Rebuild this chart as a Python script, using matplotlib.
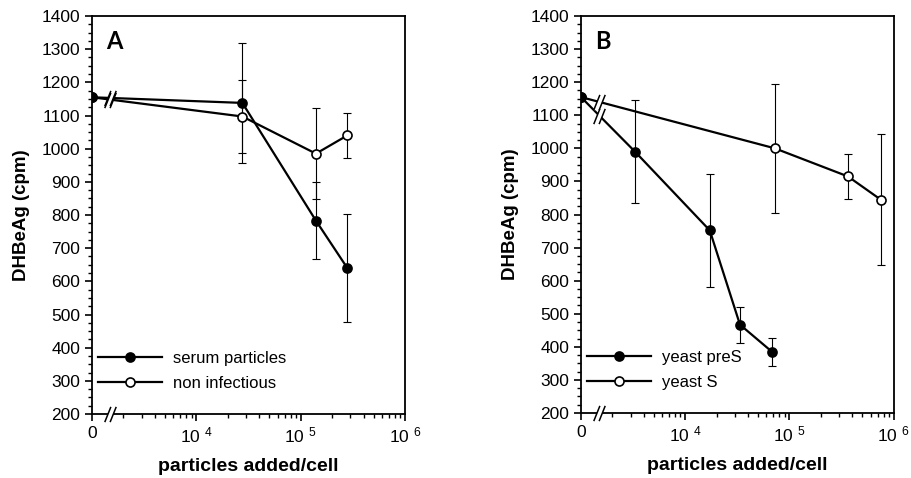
import numpy as np
import matplotlib
matplotlib.use('Agg')
import matplotlib.pyplot as plt
from matplotlib.path import Path
from matplotlib.ticker import FixedLocator, FixedFormatter, MultipleLocator, NullFormatter

plt.rcParams['font.family'] = ['Liberation Sans', 'DejaVu Sans']
plt.rcParams['mathtext.default'] = 'regular'

# panel A: particles added per cell (0 = no particles)
a_serum_x = [0, 2.76e4, 1.4e5, 2.8e5]
a_serum_y = [1155, 1138, 783, 640]
a_serum_err = [0, 180, 117, 162]

a_nonInf_x = [0, 2.76e4, 1.4e5, 2.8e5]
a_nonInf_y = [1155, 1097, 985, 1040]
a_nonInf_err = [0, 110, 138, 68]

# panel B
b_preS_x = [0, 3.3e3, 1.72e4, 3.35e4, 6.8e4]
b_preS_y = [1155, 990, 752, 467, 385]
b_preS_err = [0, 155, 170, 54, 42]

b_S_x = [0, 7.24e4, 3.64e5, 7.5e5]
b_S_y = [1155, 1000, 915, 845]
b_S_err = [0, 195, 67, 198]

x_ticks = [1e3, 1e4, 1e5, 1e6]
x_ticklabels = ['0', '10 $^{4}$', '10 $^{5}$', '10 $^{6}$']
break_x = 1.5e3

# "//" break mark and white gap between the slashes
slash_path = Path([(-0.75, -1), (0.05, 1), (-0.05, -1), (0.75, 1)],
                  [Path.MOVETO, Path.LINETO, Path.MOVETO, Path.LINETO])
gap_path = Path([(-0.75, -1), (-0.05, -1), (0.75, 1), (0.05, 1), (-0.75, -1)],
                [Path.MOVETO, Path.LINETO, Path.LINETO, Path.LINETO, Path.CLOSEPOLY])


def xpos(x):
    x = np.asarray(x, dtype=float)
    return np.where(x == 0, 1e3, x)


def draw_break(ax, x, y, clip=True):
    ax.plot([x], [y], marker=gap_path, ms=11, mfc='white', mec='none',
            ls='none', zorder=5, clip_on=clip)
    ax.plot([x], [y], marker=slash_path, ms=11, mfc='none', mec='black',
            mew=1.1, ls='none', zorder=6, clip_on=clip)


def draw_series(ax, x, y, err, filled, label):
    xp = xpos(x)
    y = np.asarray(y, dtype=float)
    err = np.asarray(err, dtype=float)
    m = err > 0
    ax.errorbar(xp[m], y[m], yerr=err[m], fmt='none', ecolor='black',
                elinewidth=0.8, capsize=3, capthick=0.8, zorder=2)
    line, = ax.plot(xp, y, color='black', lw=1.6, marker='o', ms=6.5,
                    mfc='black' if filled else 'white', mec='black', mew=1.2,
                    label=label, zorder=4)
    # break mark on the segment leaving the "0" point
    t = (np.log10(break_x) - 3) / (np.log10(xp[1]) - 3)
    draw_break(ax, break_x, y[0] + (y[1] - y[0]) * t)
    return line


def style_axis(ax, letter):
    ax.set_xscale('log')
    ax.set_xlim(1e3, 1e6)
    ax.set_ylim(200, 1400)
    ax.xaxis.set_major_locator(FixedLocator(x_ticks))
    ax.xaxis.set_major_formatter(FixedFormatter(x_ticklabels))
    minor = [k * 10 ** d for d in (3, 4, 5) for k in range(2, 10)]
    ax.xaxis.set_minor_locator(FixedLocator(minor))
    ax.xaxis.set_minor_formatter(NullFormatter())
    ax.yaxis.set_major_locator(MultipleLocator(100))
    ax.yaxis.set_minor_locator(MultipleLocator(25))
    ax.tick_params(which='major', direction='out', length=5, width=1.2,
                   labelsize=12.5, top=False, right=False)
    ax.tick_params(which='minor', direction='out', length=3, width=1.0,
                   top=False, right=False)
    for s in ax.spines.values():
        s.set_linewidth(1.3)
    ax.set_ylabel('DHBeAg (cpm)', fontsize=13.5, fontweight='bold', labelpad=8)
    ax.set_xlabel('particles added/cell', fontsize=14, fontweight='bold', labelpad=9)
    ax.text(0.045, 0.965, letter, transform=ax.transAxes, fontsize=17,
            family='Lato', fontweight='bold', va='top', ha='left')
    draw_break(ax, break_x, 200, clip=False)


fig = plt.figure(figsize=(9.12, 4.78), dpi=100)
axA = fig.add_axes([0.1009, 0.1339, 0.3432, 0.8326])
axB = fig.add_axes([0.637, 0.136, 0.343, 0.8305])

hA2 = draw_series(axA, a_nonInf_x, a_nonInf_y, a_nonInf_err, False, 'non infectious')
hA1 = draw_series(axA, a_serum_x, a_serum_y, a_serum_err, True, 'serum particles')
style_axis(axA, 'A')
axA.legend(handles=[hA1, hA2], loc='lower left', bbox_to_anchor=(0.02, 0.058),
           frameon=False, fontsize=12, handlelength=3.8, handletextpad=0.7,
           labelspacing=0.6, borderpad=0, borderaxespad=0)

hB2 = draw_series(axB, b_S_x, b_S_y, b_S_err, False, 'yeast S')
hB1 = draw_series(axB, b_preS_x, b_preS_y, b_preS_err, True, 'yeast preS')
style_axis(axB, 'B')
axB.legend(handles=[hB1, hB2], loc='lower left', bbox_to_anchor=(0.02, 0.058),
           frameon=False, fontsize=12, handlelength=3.8, handletextpad=0.7,
           labelspacing=0.6, borderpad=0, borderaxespad=0)

fig.savefig('out.png', dpi=100)
